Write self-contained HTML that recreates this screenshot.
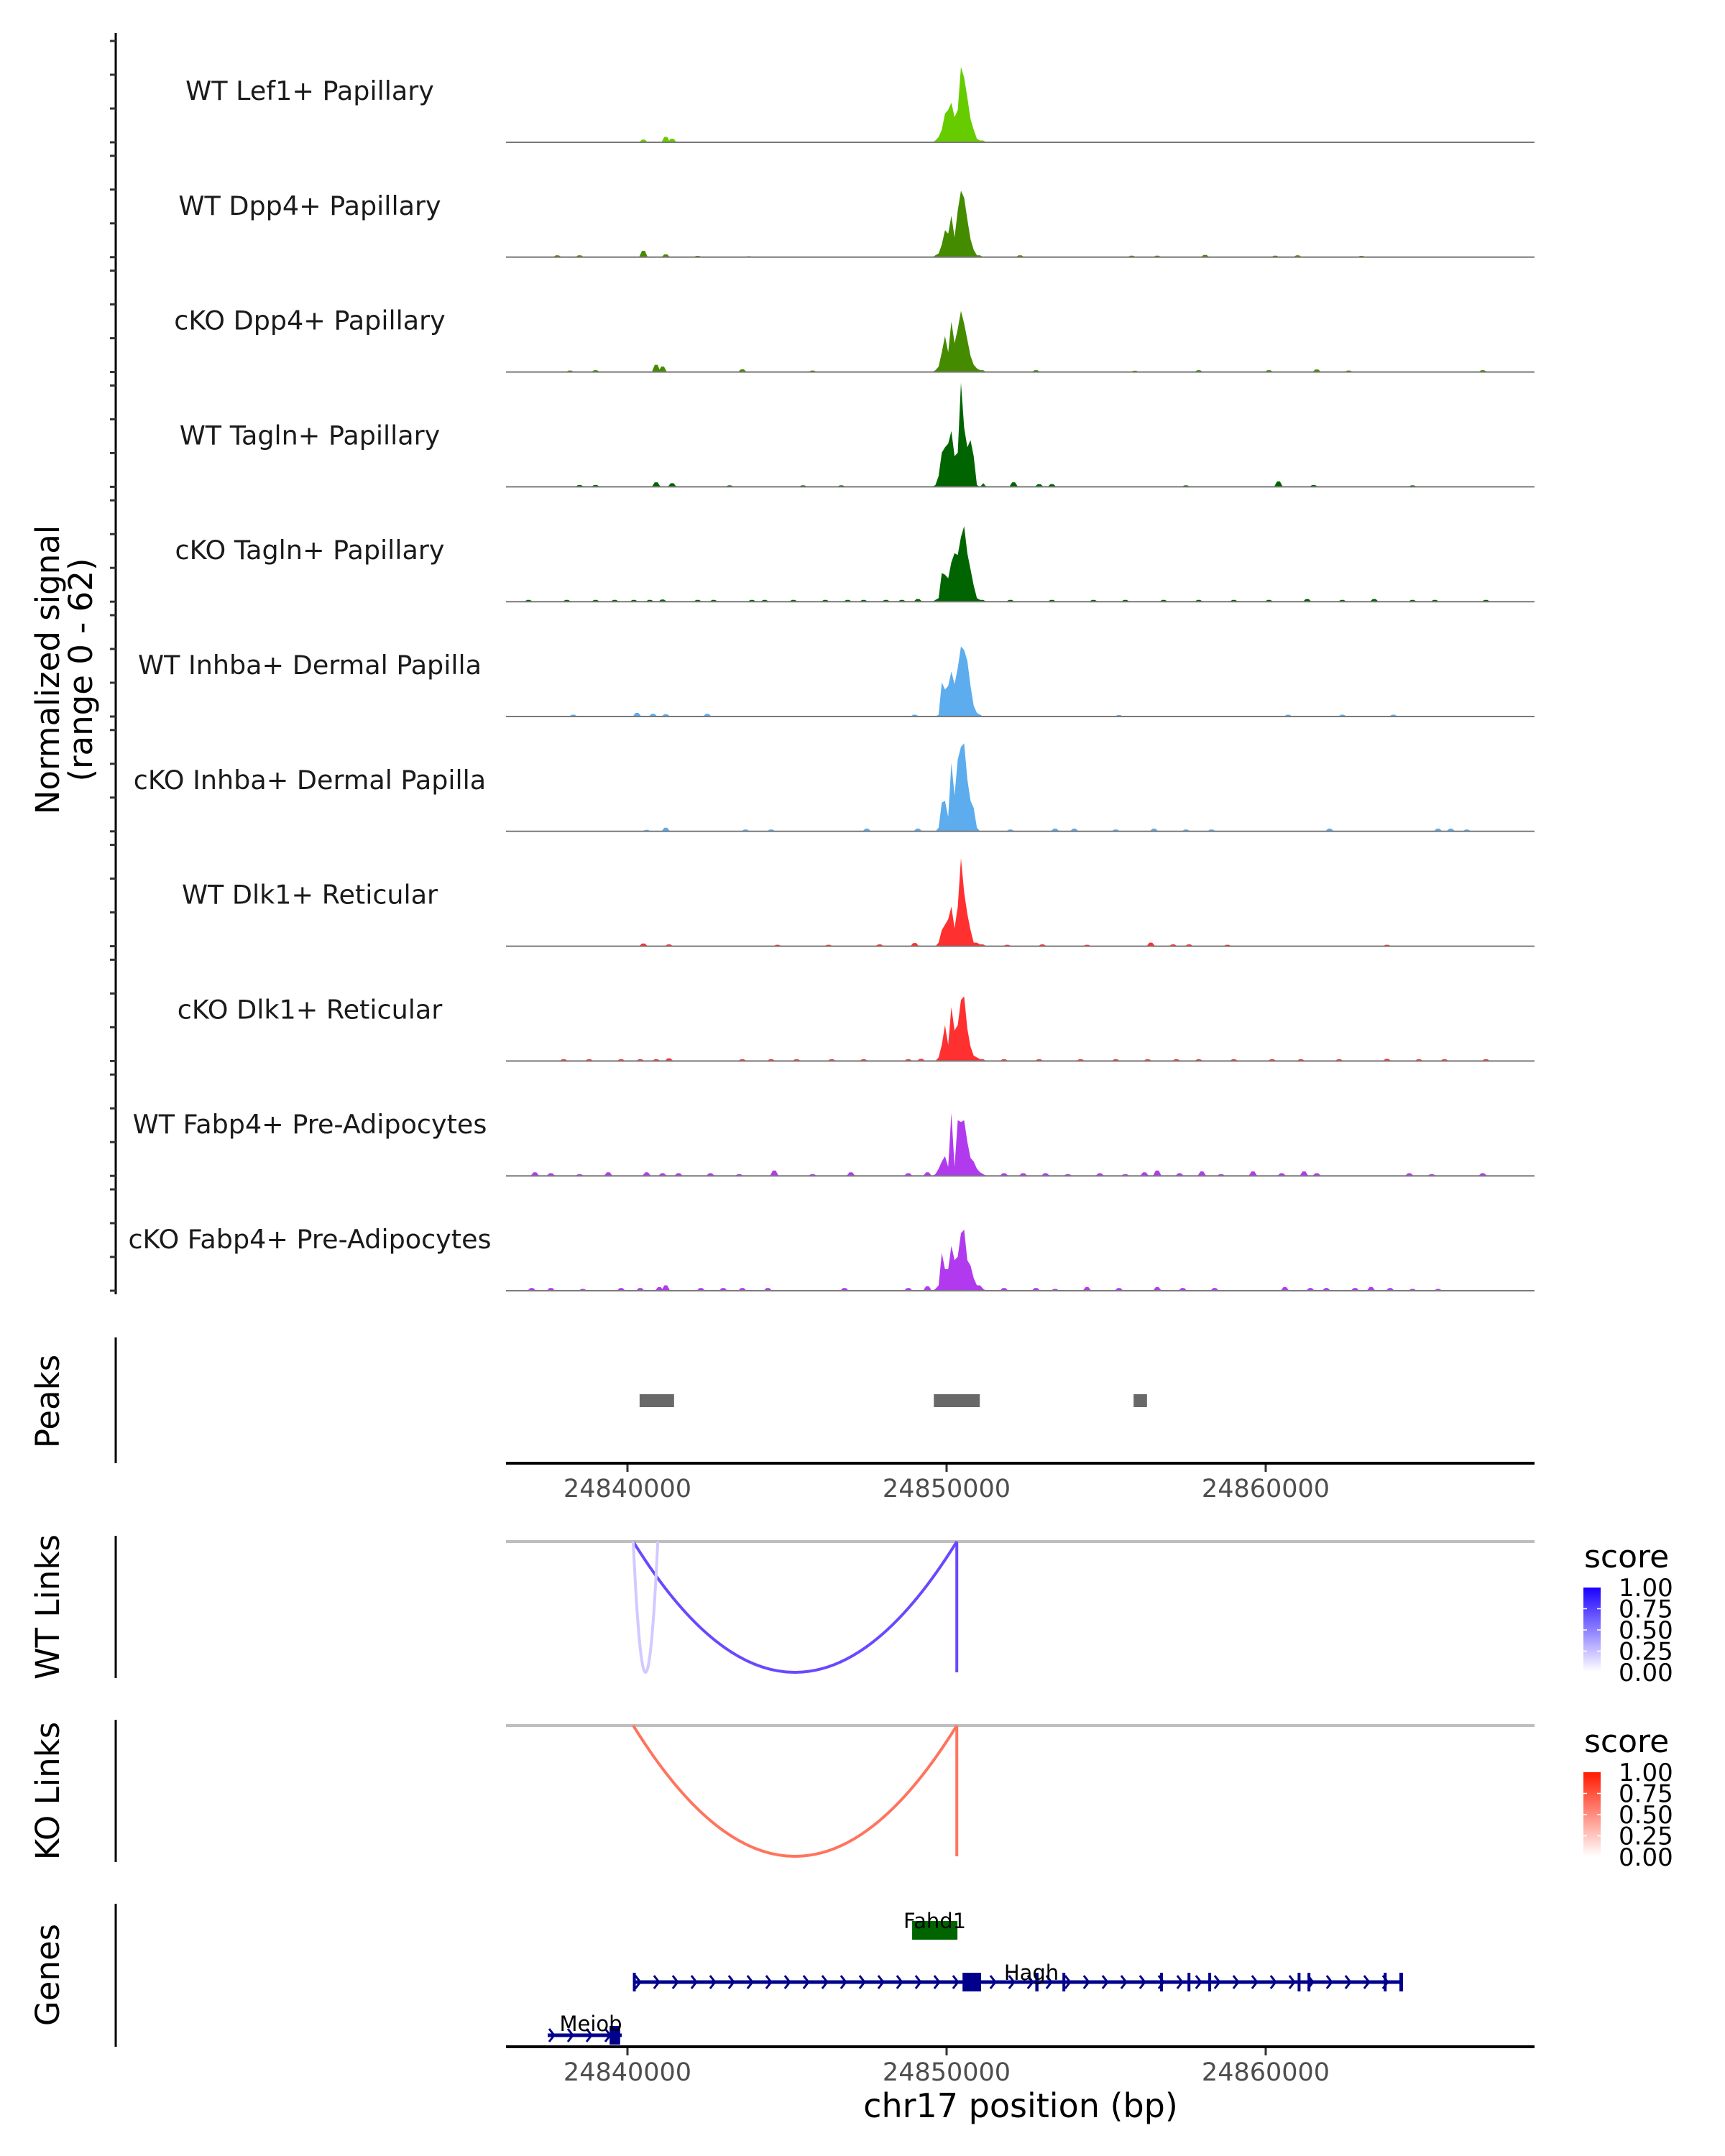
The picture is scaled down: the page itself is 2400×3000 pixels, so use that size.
<!DOCTYPE html>
<html><head><meta charset="utf-8"><style>
html,body{margin:0;padding:0;background:#fff}
svg{display:block}
text{font-family:"DejaVu Sans","Liberation Sans",sans-serif}
</style></head><body>
<svg id="chart" xmlns="http://www.w3.org/2000/svg" width="2400" height="3000" viewBox="0 0 2400 3000">
<defs>
<linearGradient id="gBlue" x1="0" y1="1" x2="0" y2="0"><stop offset="0" stop-color="#ffffff"/><stop offset="1" stop-color="#1a00ff"/></linearGradient>
<linearGradient id="gRed" x1="0" y1="1" x2="0" y2="0"><stop offset="0" stop-color="#ffffff"/><stop offset="1" stop-color="#ff1a00"/></linearGradient>
</defs>
<g id="tracks"></g>
<g id="lower"></g>
</svg>
<script>
// ---------- data ----------
const trackNames = ["WT Lef1+ Papillary","WT Dpp4+ Papillary","cKO Dpp4+ Papillary","WT Tagln+ Papillary","cKO Tagln+ Papillary","WT Inhba+ Dermal Papilla","cKO Inhba+ Dermal Papilla","WT Dlk1+ Reticular","cKO Dlk1+ Reticular","WT Fabp4+ Pre-Adipocytes","cKO Fabp4+ Pre-Adipocytes"];
const trackColors = ["#66cc00","#458b00","#458b00","#006400","#006400","#5cacee","#5cacee","#ff3030","#ff3030","#b23aee","#b23aee"];
const profileStartKb = 24849.6;
const profileBinKb = 0.1;
const profile0 = [1,3,7,16,18,22,14,18,42,36,25,13,7,2,1,1];
const profile1 = [1,2,7,15,13,23,11,26,37,33,21,10,4,1,1,0];
const profile2 = [1,3,11,20,11,28,16,24,34,27,18,9,4,2,1,1];
const profile3 = [1,6,19,22,24,31,17,19,58,33,22,26,17,1,0,2];
const profile4 = [1,2,16,15,13,22,27,26,36,42,27,18,9,2,1,1];
const profile5 = [0,1,19,15,17,25,18,27,39,37,31,17,6,2,1,0];
const profile6 = [0,2,16,17,8,38,20,40,47,49,29,17,13,2,0,0];
const profile7 = [0,2,9,12,15,22,10,22,49,30,18,9,2,2,1,1];
const profile8 = [0,2,9,20,9,30,17,20,34,36,18,8,3,2,1,1];
const profile9 = [1,4,8,11,5,35,5,31,30,31,19,10,8,4,2,1];
const profile10 = [1,3,21,12,12,25,17,19,32,34,17,14,7,3,3,1];
const noise0 = [[24840.5,1.5],[24841.2,3],[24841.4,2]];
const noise1 = [[24837.8,1],[24838.5,1],[24840.5,3.5],[24841.2,1.5],[24842.2,0.7],[24843.8,0.5],[24852.3,1],[24855.8,0.8],[24856.6,0.8],[24858.1,1.2],[24860.3,0.8],[24861.0,1],[24863.0,0.7]];
const noise2 = [[24838.2,0.8],[24839.0,1],[24840.9,4],[24841.1,3],[24843.6,1.5],[24845.8,0.8],[24852.8,1],[24855.9,0.7],[24857.9,1],[24860.1,1],[24861.6,1.4],[24862.6,0.8],[24866.8,1]];
const noise3 = [[24838.5,1],[24839.0,1],[24840.9,2.5],[24841.4,2],[24843.2,0.8],[24845.5,0.8],[24846.7,0.8],[24852.1,2.5],[24852.9,1.5],[24853.3,1.5],[24857.5,0.8],[24860.4,3],[24861.5,1],[24864.6,0.8]];
const noise4 = [[24836.9,1],[24838.1,1],[24839.0,1],[24839.6,1],[24840.2,1],[24840.7,1],[24841.1,1.2],[24842.2,1],[24842.7,1],[24843.9,1],[24844.3,1],[24845.2,1],[24846.2,1],[24846.9,1],[24847.4,1],[24848.1,1],[24848.6,1],[24849.1,1.5],[24852.0,1],[24853.3,1],[24854.6,1],[24855.6,1],[24856.8,1],[24857.9,1],[24859.0,1],[24860.1,1],[24861.3,1.5],[24862.4,1],[24863.4,1.5],[24864.6,1],[24865.3,1],[24866.9,1]];
const noise5 = [[24838.3,1],[24840.3,2],[24840.8,1.5],[24841.2,1.3],[24842.5,1.5],[24849.0,1],[24855.4,0.8],[24860.7,1],[24862.4,1],[24864.0,1]];
const noise6 = [[24840.6,0.8],[24841.2,2],[24843.7,1],[24844.5,1],[24847.5,1.5],[24849.1,1.5],[24852.0,1],[24853.4,1.5],[24854.0,1.5],[24855.3,1],[24856.5,1.5],[24857.5,1],[24858.3,1],[24862.0,1.5],[24865.4,1.5],[24865.8,1.5],[24866.3,1]];
const noise7 = [[24840.5,1.5],[24841.3,1],[24844.7,0.8],[24846.3,0.8],[24847.9,1],[24849.0,1.8],[24851.9,0.8],[24853.0,1],[24854.4,0.8],[24856.4,2],[24857.1,1],[24857.6,1],[24858.8,0.8],[24863.8,0.8]];
const noise8 = [[24838.0,1],[24838.8,1],[24839.8,1],[24840.4,1],[24840.9,1],[24841.3,1.5],[24843.6,1],[24844.5,1],[24845.3,1],[24846.4,1],[24847.4,1],[24848.8,1],[24849.2,1.2],[24851.8,1],[24852.9,1],[24854.2,1],[24855.3,1],[24856.3,1],[24857.2,1],[24857.9,1],[24859.0,1],[24860.2,1],[24861.1,1],[24862.3,1],[24863.8,1.2],[24864.8,1],[24865.6,1],[24866.9,1]];
const noise9 = [[24837.1,2],[24837.6,1.5],[24838.5,1],[24839.4,2],[24840.6,2],[24841.1,1.5],[24841.6,1.5],[24842.6,1.5],[24843.5,1],[24844.6,3],[24845.8,1],[24847.0,2],[24848.8,1.5],[24849.4,2],[24851.8,1.5],[24852.4,1.5],[24853.1,1.5],[24853.8,1],[24854.8,1.5],[24855.6,1],[24856.2,2],[24856.6,3],[24857.3,1.5],[24858.0,2.5],[24858.6,1],[24859.6,2.5],[24860.5,1.5],[24861.2,2.5],[24861.6,1.5],[24864.5,1.5],[24865.2,1],[24866.8,1.5]];
const noise10 = [[24837.0,1.5],[24837.6,1.5],[24838.6,1],[24839.8,1.5],[24840.4,1.5],[24841.0,2],[24841.2,3],[24842.3,1.5],[24843.0,1.5],[24843.6,1.5],[24844.4,1.5],[24846.8,1.5],[24848.8,1.5],[24849.4,2.5],[24851.8,1.5],[24852.8,1.5],[24853.4,1],[24854.4,2],[24855.4,1.5],[24856.6,2],[24857.4,1.5],[24858.4,1.5],[24860.6,2],[24861.4,1.5],[24861.9,1.5],[24862.8,1.5],[24863.3,2],[24863.9,1.5],[24864.6,1],[24865.4,1]];
const xTicksKb = [24840,24850,24860];
const xTickLabels = ["24840000","24850000","24860000"];
const peakStarts = [24840.38,24849.6,24855.86];
const peakEnds = [24841.46,24851.04,24856.28];
const wtLinkStarts = [24840.18,24840.18,24850.32];
const wtLinkEnds = [24850.32,24840.95,24850.32];
const wtLinkScores = [0.85,0.25,0.85];
const koLinkStarts = [24840.18,24850.32];
const koLinkEnds = [24850.32,24850.32];
const koLinkScores = [0.75,0.75];
const legendLabels = ["1.00","0.75","0.50","0.25","0.00"];
const haghStart = 24840.2, haghEnd = 24864.3;
const haghExonStarts = [24840.17,24850.5,24852.78,24853.63,24856.69,24857.55,24858.2,24861.0,24861.31,24863.7,24864.19];
const haghExonEnds = [24840.24,24851.08,24852.88,24853.7,24856.76,24857.62,24858.27,24861.07,24861.38,24863.77,24864.3];
const meiobStart = 24837.5, meiobEnd = 24839.82;
const meiobExonStarts = [24839.44];
const meiobExonEnds = [24839.77];
const fahdStart = 24848.92, fahdEnd = 24850.34;
// ---------- helpers ----------
const NS = "http://www.w3.org/2000/svg";
const X0 = 704, X1 = 2135;
const xs = kb => 873 + (kb - 24840) * 44.4;
const UNIT = 2.5;
const profiles = [profile0,profile1,profile2,profile3,profile4,profile5,profile6,profile7,profile8,profile9,profile10];
const noises = [noise0,noise1,noise2,noise3,noise4,noise5,noise6,noise7,noise8,noise9,noise10];
function mk(tag, attrs, parent){const e=document.createElementNS(NS,tag);for(const k in attrs)e.setAttribute(k,attrs[k]);parent.appendChild(e);return e;}
function txt(s, attrs, parent){const e=mk("text",attrs,parent);e.textContent=s;return e;}
const tracksG = document.getElementById("tracks");
const lower = document.getElementById("lower");
// y axis
const yAxis = mk("line",{x1:161,y1:46,x2:161,y2:1801,stroke:"#000","stroke-width":3},tracksG);


const yt = txt("Normalized signal",{x:0,y:0,"font-size":45,"text-anchor":"middle",transform:"translate(82,932) rotate(-90)"},tracksG);


const yt2 = txt("(range 0 - 62)",{x:0,y:0,"font-size":45,"text-anchor":"middle",transform:"translate(128,932) rotate(-90)"},tracksG);


trackNames.forEach((name,i)=>{
  const b = 198 + i*159.8;
  const g = mk("g",{},tracksG);
  
  
  for(let k=0;k<4;k++){ mk("line",{x1:153,y1:b-47*k,x2:161,y2:b-47*k,stroke:"#333","stroke-width":3},g); }
  const lbl = txt(name,{x:431,y:b-59,"font-size":36.5,"text-anchor":"middle",fill:"#1a1a1a"},g);
  
  
  const col = trackColors[i];
  noises[i].forEach(([kb,v])=>{
    const x = xs(kb);
    const sp = mk("polygon",{points:`${x-6},${b} ${x-2},${b-v*UNIT} ${x+2},${b-v*UNIT} ${x+6},${b}`,fill:col},g);
    
    
  });
  const p = profiles[i];
  let pts = `${xs(profileStartKb)-2},${b} `;
  p.forEach((v,j)=>{ pts += `${xs(profileStartKb+(j+0.5)*profileBinKb)},${b-v*UNIT} `; });
  pts += `${xs(profileStartKb+p.length*profileBinKb)+2},${b}`;
  const pk = mk("polygon",{points:pts,fill:col},g);
  
  
  const base = mk("line",{x1:X0,y1:b,x2:X1,y2:b,stroke:"#7a7a7a","stroke-width":2},g);
  
  
});
// ---------- peaks panel ----------
const pg = mk("g",{},lower);


mk("line",{x1:161,y1:1861,x2:161,y2:2036,stroke:"#000","stroke-width":3},pg);
const pl = txt("Peaks",{x:0,y:0,"font-size":45,"text-anchor":"middle",transform:"translate(82,1950) rotate(-90)"},pg);


peakStarts.forEach((s,i)=>{
  const r = mk("rect",{x:xs(s),y:1940,width:xs(peakEnds[i])-xs(s),height:18,fill:"#696969"},pg);
  
  
});
function xAxis(y, parent){
  mk("line",{x1:X0,y1:y,x2:X1,y2:y,stroke:"#000","stroke-width":4},parent);
  xTicksKb.forEach((kb,i)=>{
    mk("line",{x1:xs(kb),y1:y+2,x2:xs(kb),y2:y+12,stroke:"#333","stroke-width":3},parent);
    const t = txt(xTickLabels[i],{x:xs(kb),y:y+47,"font-size":35,"text-anchor":"middle",fill:"#4d4d4d"},parent);
    
    
  });
}
xAxis(2036, pg);
// ---------- links ----------
function linksPanel(name, top, bottom, starts, ends, scores, gradId, colorFn, legendTop){
  const g = mk("g",{},lower);
  
  
  mk("line",{x1:161,y1:top-8,x2:161,y2:bottom+8,stroke:"#000","stroke-width":3},g);
  const t = txt(name,{x:0,y:0,"font-size":45,"text-anchor":"middle",transform:`translate(82,${(top+bottom)/2}) rotate(-90)`},g);
  
  
  mk("line",{x1:X0,y1:top,x2:X1,y2:top,stroke:"#bebebe","stroke-width":4},g);
  starts.forEach((s,i)=>{
    const a = xs(s), b = xs(ends[i]);
    let d;
    if (Math.abs(a-b)<1) d = `M${a},${top} L${a},${bottom}`;
    else { const cy = 2*bottom - top; d = `M${a},${top} Q${(a+b)/2},${cy} ${b},${top}`; }
    const p = mk("path",{d:d,fill:"none",stroke:colorFn(scores[i]),"stroke-width":4},g);
    
    
  });
  const st = txt("score",{x:2204,y:legendTop-28,"font-size":44,fill:"#000"},g);
  
  
  const bar = mk("rect",{x:2203,y:legendTop,width:24,height:117,fill:`url(#${gradId})`},g);
  
  
  legendLabels.forEach((l,i)=>{
    const y = legendTop + i*29.5;
    if(i>0&&i<4){ mk("line",{x1:2203,y1:y,x2:2208,y2:y,stroke:"#fff","stroke-width":1.5},g); mk("line",{x1:2222,y1:y,x2:2227,y2:y,stroke:"#fff","stroke-width":1.5},g); }
    const lt = txt(l,{x:2252,y:y+12,"font-size":34,fill:"#000"},g);
    
    
  });
}
const blue = s => `rgb(${Math.round(255-(255-80)*s)},${Math.round(255-(255-40)*s)},255)`;
const red = s => `rgb(255,${Math.round(255-(255-70)*s)},${Math.round(255-(255-40)*s)})`;
linksPanel("WT Links",2145,2327,wtLinkStarts,wtLinkEnds,wtLinkScores,"gBlue",blue,2209);
linksPanel("KO Links",2401,2583,koLinkStarts,koLinkEnds,koLinkScores,"gRed",red,2466);
// ---------- genes ----------
const gg = mk("g",{},lower);


mk("line",{x1:161,y1:2649,x2:161,y2:2848,stroke:"#000","stroke-width":3},gg);
const gt = txt("Genes",{x:0,y:0,"font-size":45,"text-anchor":"middle",transform:"translate(82,2748) rotate(-90)"},gg);


const fahd = mk("rect",{x:xs(fahdStart),y:2673,width:xs(fahdEnd)-xs(fahdStart),height:26,fill:"#006400"},gg);


const fl = txt("Fahd1",{x:(xs(fahdStart)+xs(fahdEnd))/2,y:2683,"font-size":29,"text-anchor":"middle",fill:"#000"},gg);


function gene(name, start, end, y, exS, exE, labelX, labelY){
  const g = mk("g",{},gg);
  
  
  mk("line",{x1:xs(start),y1:y,x2:xs(end),y2:y,stroke:"#00008b","stroke-width":5},g);
  for(let x=xs(start)+6;x<xs(end)-4;x+=26){ mk("polyline",{points:`${x-4},${y-9} ${x+3},${y} ${x-4},${y+9}`,fill:"none",stroke:"#00008b","stroke-width":3},g); }
  exS.forEach((s,i)=>{ mk("rect",{x:xs(s),y:y-13,width:Math.max(4,xs(exE[i])-xs(s)),height:26,fill:"#00008b"},g); });
  const l = txt(name,{x:labelX,y:labelY,"font-size":29,"text-anchor":"middle",fill:"#000"},g);
  
  
}
gene("Hagh",haghStart,haghEnd,2758,haghExonStarts,haghExonEnds,1435,2755);
gene("Meiob",meiobStart,meiobEnd,2832,meiobExonStarts,meiobExonEnds,822,2826);
xAxis(2848, gg);
const xt = txt("chr17 position (bp)",{x:1420,y:2946,"font-size":46,"text-anchor":"middle",fill:"#000"},gg);


</script>
</body></html>
